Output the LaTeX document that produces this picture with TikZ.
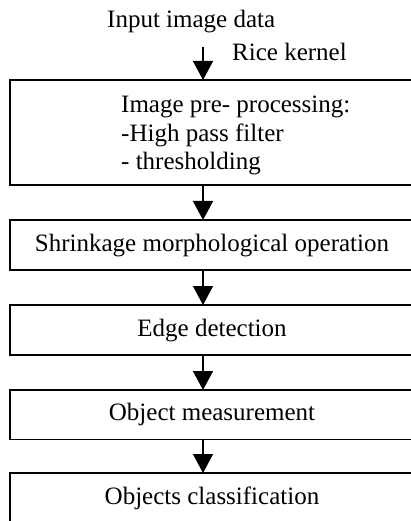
\documentclass[tikz,border=0pt]{standalone}
\usepackage{fontspec}
\setmainfont{Liberation Serif}
\usetikzlibrary{arrows.meta}
\tikzset{
  x=1pt, y=-1pt,
  txt/.style={font=\fontsize{25}{28.3}\selectfont, inner sep=0pt},
  stage/.style={rectangle, minimum width=404pt, anchor=north west,
    outer sep=0pt, font=\fontsize{25}{28.3}\selectfont, text height=17pt, text depth=5pt, inner sep=0pt},
  edge/.style={line width=1.5pt},
  flow/.style={line width=1.5pt, -{Triangle[width=20pt,length=19pt]}},
}
\begin{document}
\begin{tikzpicture}
\path[use as bounding box] (0,0) rectangle (411,521);
\clip (0,0) rectangle (411,521);
\fill[white] (0,0) rectangle (411,521);
\node[txt, anchor=base west] (in) at (107,28) {Input image data};
\node[txt, anchor=base west] (rice) at (232,61) {Rice kernel};
\coordinate (top) at (203,47);
\node[stage, minimum height=105pt] (b1) at (10,80) {};
\node[txt, anchor=west, align=left] (t1) at (121,135.5) {Image pre- processing:\\-High pass filter\\- thresholding};
\node[stage, minimum height=50pt] (b2) at (10,220) {Shrinkage morphological operation};
\node[stage, minimum height=50pt] (b3) at (10,305) {Edge detection};
\node[stage, minimum height=49.5pt] (b4) at (10,390) {Object measurement};
\node[stage, minimum height=50pt] (b5) at (10,473) {Objects classification};
\foreach \b in {b1,b2,b3,b4}
  \draw[edge] ([xshift=30pt]\b.north east) -- (\b.north west) -- (\b.south west) -- ([xshift=30pt]\b.south east);
\draw[edge] ([xshift=30pt]b5.north east) -- (b5.north west) -- ([yshift=-30pt]b5.south west);
\draw[flow] (top) -- (b1.north -| top);
\draw[flow] (b1.south -| top) -- (b2.north -| top);
\draw[flow] (b2.south -| top) -- (b3.north -| top);
\draw[flow] (b3.south -| top) -- (b4.north -| top);
\draw[flow] (b4.south -| top) -- (b5.north -| top);
\end{tikzpicture}
\end{document}
